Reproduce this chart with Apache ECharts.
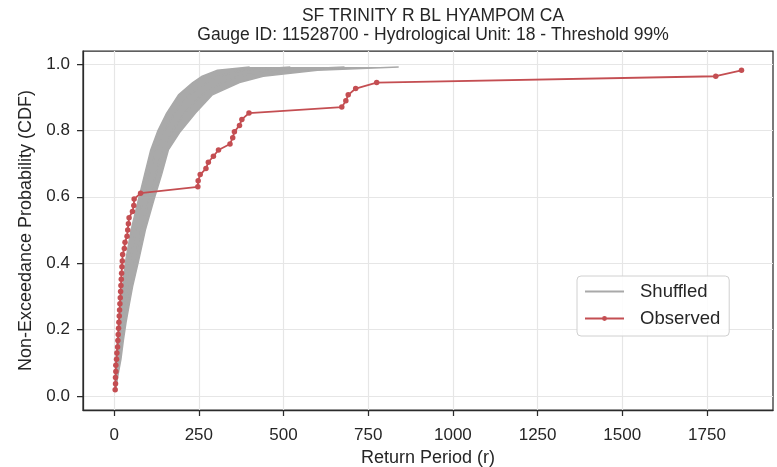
<!DOCTYPE html>
<html><head><meta charset="utf-8">
<script src="https://cdn.jsdelivr.net/npm/echarts@6/dist/echarts.min.js"></script>
<style>html,body{margin:0;padding:0;background:#fff}#c{width:777px;height:467px}</style>
</head><body><div id="c"></div><script>
const titleLines = ['SF TRINITY R BL HYAMPOM CA', 'Gauge ID: 11528700 - Hydrological Unit: 18 - Threshold 99%'];
const xTicks = [0, 250, 500, 750, 1000, 1250, 1500, 1750];
const yTicks = [0, 0.2, 0.4, 0.6, 0.8, 1.0];

// Observed: non-exceedance probability vs return period
const observedCdf = [0.019,0.037,0.056,0.074,0.093,0.111,0.130,0.148,0.167,0.185,0.204,0.222,0.241,0.259,0.278,0.296,0.315,0.333,0.352,0.370,0.389,0.407,0.426,0.444,0.463,0.481,0.500,0.519,0.537,0.556,0.574,0.593,0.611,0.630,0.648,0.667,0.685,0.704,0.722,0.741,0.759,0.778,0.796,0.815,0.833,0.852,0.870,0.889,0.907,0.926,0.944,0.963,0.981];
const observedReturn = [3,4,4,5,5,7,8,10,11,12,13,14,15,16,17,18,19,20,21,22,23,24,25,30,32,38,40,42,44,54,58,59,78,247,248,254,271,278,293,308,342,350,355,370,377,398,672,684,691,713,775,1776,1852];

// Shuffled ensemble: band edges and a few inner curves
const shuffledCdf   = [0.019,0.056,0.111,0.167,0.222,0.278,0.333,0.407,0.500,0.593,0.667,0.741,0.796,0.852,0.907,0.944,0.963,0.981,0.991];
const shuffledLeft  = [3,4,6,9,15,20,25,34,50,72,90,108,128,155,190,232,260,305,400];
const shuffledInner1= [3,6,10,15,21,28,35,47,64,86,104,124,148,178,222,272,308,380,520];
const shuffledInner2= [4,8,15,21,28,36,45,60,79,103,123,142,170,208,258,318,368,470,680];
const shuffledRight = [5,10,20,27,35,45,55,72,92,118,140,160,195,240,290,370,440,600,840];

const FONT = '"Liberation Sans", Arial, sans-serif';
const TXT = '#262626';
const GRAY = '#a9a9a9';
const RED = '#c44e52';
const AX = '#2b2b2b';
const pairs = (xs, ys) => xs.map((x, i) => [x, ys[i]]);

const chart = echarts.init(document.getElementById('c'), null, {renderer: 'canvas'});
const shuffledLine = (xs) => ({
  type: 'line', name: 'Shuffled', data: pairs(xs, shuffledCdf), symbol: 'none',
  lineStyle: {color: GRAY, width: 1.5}, itemStyle: {color: GRAY}, z: 2, silent: true
});
chart.setOption({
  animation: false,
  backgroundColor: '#fff',
  title: {
    text: titleLines.join('\n'), left: 428, top: 2, textAlign: 'center',
    textStyle: {fontFamily: FONT, fontSize: 17.5, fontWeight: 'normal', color: TXT, lineHeight: 19}
  },
  grid: {left: 83, right: 4, top: 51, bottom: 57, show: true, borderColor: AX, borderWidth: 1.25,
    outerBoundsMode: 'none', containLabel: false},
  legend: {
    data: [{name: 'Shuffled', itemStyle: {opacity: 0}}, {name: 'Observed'}],
    orient: 'vertical', left: 577, top: 276,
    itemWidth: 39, itemHeight: 6, itemGap: 8,
    padding: [6, 9, 8, 7], borderColor: '#d0d0d0', borderWidth: 1, borderRadius: 4,
    backgroundColor: 'rgba(255,255,255,0.85)',
    textStyle: {fontFamily: FONT, fontSize: 18.5, color: TXT, padding: [0, 0, 0, 11]}
  },
  xAxis: {
    type: 'value', min: -92, max: 1945,
    name: 'Return Period (r)', nameLocation: 'middle', nameGap: 37,
    nameTextStyle: {fontFamily: FONT, fontSize: 18, color: TXT},
    axisLine: {show: true, onZero: false, lineStyle: {color: AX, width: 1.25}},
    axisTick: {show: true, customValues: xTicks, length: 6, lineStyle: {color: AX, width: 1.25}},
    axisLabel: {customValues: xTicks, margin: 17, fontFamily: FONT, fontSize: 17, color: TXT,
      formatter: v => String(v)},
    splitLine: {show: true, lineStyle: {color: '#e6e6e6', width: 1.2}}
  },
  yAxis: {
    type: 'value', min: -0.042, max: 1.039,
    name: 'Non-Exceedance Probability (CDF)', nameLocation: 'middle', nameGap: 36,
    nameTextStyle: {fontFamily: FONT, fontSize: 18, color: TXT},
    axisLine: {show: true, onZero: false, lineStyle: {color: AX, width: 1.25}},
    axisTick: {show: true, customValues: yTicks, length: 6, lineStyle: {color: AX, width: 1.25}},
    axisLabel: {customValues: yTicks, margin: 13, fontFamily: FONT, fontSize: 17, color: TXT,
      formatter: v => v.toFixed(1)},
    splitLine: {show: true, lineStyle: {color: '#e6e6e6', width: 1.2}}
  },
  series: [
    shuffledLine(shuffledLeft),
    {
      type: 'custom', name: 'band', silent: true, z: 1, clip: true, data: [[0, 0]],
      renderItem: (params, api) => {
        const pts = shuffledLeft.map((x, i) => api.coord([x, shuffledCdf[i]]))
          .concat(shuffledRight.map((x, i) => api.coord([x, shuffledCdf[i]])).reverse());
        return {type: 'polygon', shape: {points: pts}, style: {fill: GRAY}};
      }
    },
    shuffledLine(shuffledInner1),
    shuffledLine(shuffledInner2),
    shuffledLine(shuffledRight),
    {
      type: 'line', name: 'Observed', data: pairs(observedReturn, observedCdf),
      symbol: 'circle', symbolSize: 5.5, showAllSymbol: true,
      lineStyle: {color: RED, width: 1.8}, itemStyle: {color: RED}, z: 5
    }
  ]
});
</script></body></html>
